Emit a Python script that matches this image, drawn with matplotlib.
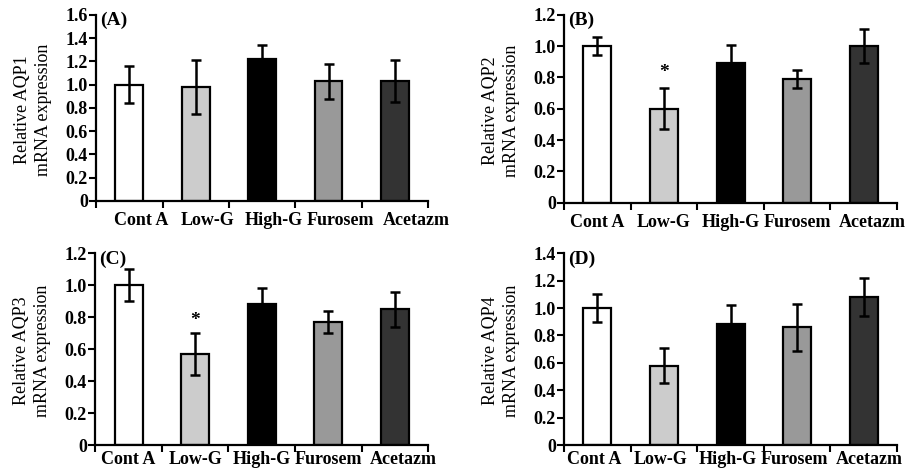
import numpy as np
import matplotlib.pyplot as plt
from matplotlib.ticker import FuncFormatter
import matplotlib.transforms as mtransforms

plt.rcParams['font.family'] = ['Liberation Serif', 'DejaVu Serif']

groups = ["Cont A", "Low-G", "High-G", "Furosem", "Acetazm"]
colors = ["#ffffff", "#cccccc", "#000000", "#999999", "#333333"]

aqp1_mean = [1.00, 0.98, 1.22, 1.03, 1.03]
aqp1_err = [0.16, 0.23, 0.12, 0.15, 0.18]
aqp2_mean = [1.00, 0.60, 0.89, 0.79, 1.00]
aqp2_err = [0.06, 0.13, 0.12, 0.06, 0.11]
aqp3_mean = [1.00, 0.57, 0.88, 0.77, 0.85]
aqp3_err = [0.10, 0.13, 0.10, 0.07, 0.11]
aqp4_mean = [1.00, 0.58, 0.88, 0.86, 1.08]
aqp4_err = [0.10, 0.13, 0.14, 0.17, 0.14]

panels = [
    ("(A)", "AQP1", aqp1_mean, aqp1_err, 1.6, None),
    ("(B)", "AQP2", aqp2_mean, aqp2_err, 1.2, (1, 0.83)),
    ("(C)", "AQP3", aqp3_mean, aqp3_err, 1.2, (1, 0.78)),
    ("(D)", "AQP4", aqp4_mean, aqp4_err, 1.4, None),
]

# axes rectangles in figure fractions (left, bottom, width, height)
rects = [
    (0.106, 0.578, 0.366, 0.391),
    (0.622, 0.574, 0.367, 0.395),
    (0.105, 0.065, 0.367, 0.403),
    (0.622, 0.065, 0.367, 0.403),
]
xpads = [8, 8, 4, 4]
xshift = [12, 0, 0, -3]   # label offset in pixels, as in the original figure
last_extra = 9            # Acetazm label sits a bit further right

fig = plt.figure(figsize=(9.07, 4.76), dpi=100)

fmt = FuncFormatter(lambda v, p: "0" if abs(v) < 1e-9 else "%.1f" % v)

for i, ((label, gene, mean, err, ymax, star), rect) in enumerate(zip(panels, rects)):
    ax = fig.add_axes(rect)
    x = np.arange(len(groups))
    ax.bar(x, mean, width=0.42, color=colors, edgecolor="black",
           linewidth=1.6, zorder=2)
    ax.errorbar(x, mean, yerr=err, fmt="none", ecolor="black",
                elinewidth=1.8, capsize=3.5, capthick=1.8, zorder=3)
    if star is not None:
        ax.text(star[0], star[1], "*", ha="center", va="center",
                fontsize=14, fontweight="bold")
    ax.set_xlim(-0.5, len(groups) - 0.5)
    ax.set_ylim(0, ymax)
    ax.set_yticks(np.arange(0, ymax + 0.01, 0.2))
    ax.yaxis.set_major_formatter(fmt)
    ax.set_xticks(np.arange(-0.5, len(groups), 1.0))
    ax.set_xticklabels([])
    ax.set_xticks(x, minor=True)
    ax.set_xticklabels(groups, minor=True)
    ax.tick_params(axis="x", which="minor", length=0, pad=xpads[i], labelsize=13)
    ax.tick_params(axis="x", which="major", length=5, width=1.5)
    ax.tick_params(axis="y", length=5, width=1.5, labelsize=13, pad=1)
    labels = ax.get_xticklabels(minor=True)
    for j, t in enumerate(labels):
        dx = xshift[i] + (last_extra if j == len(labels) - 1 else 0)
        off = mtransforms.ScaledTranslation(dx / 100, 0, fig.dpi_scale_trans)
        t.set_fontweight("bold")
        t.set_transform(t.get_transform() + off)
    for t in ax.get_yticklabels():
        t.set_fontweight("bold")
    for s in ["top", "right"]:
        ax.spines[s].set_visible(False)
    for s in ["left", "bottom"]:
        ax.spines[s].set_linewidth(1.6)
    ax.set_ylabel("Relative %s\nmRNA expression" % gene, fontsize=13,
                  linespacing=1.3)
    ax.yaxis.set_label_coords(-0.133, 0.49)
    ax.text(0.012, 0.97, label, transform=ax.transAxes, ha="left",
            va="center", fontsize=14, fontweight="bold")

fig.savefig("out.png", dpi=100)
